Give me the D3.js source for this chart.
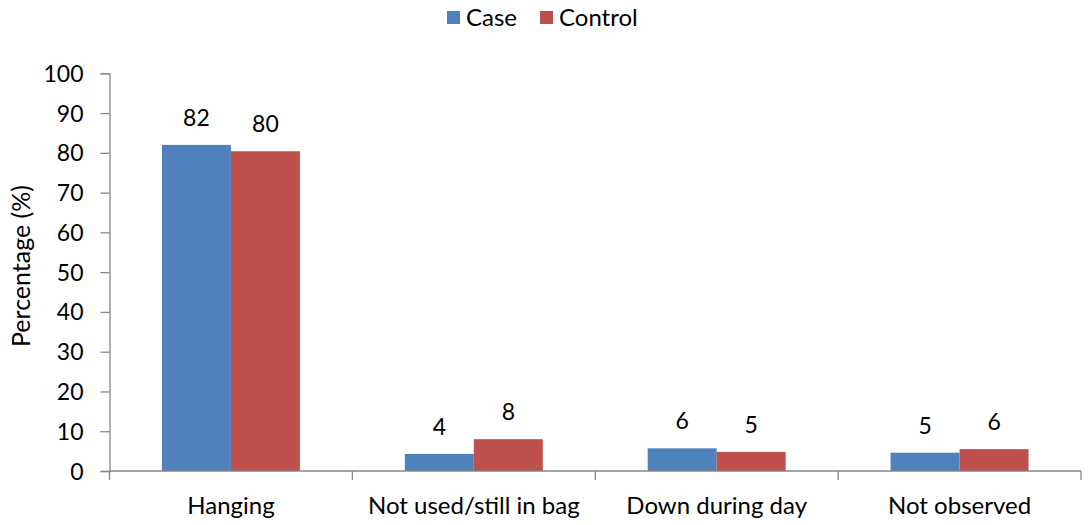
<!DOCTYPE html>
<html><head><meta charset="utf-8">
<script src="https://cdn.jsdelivr.net/npm/d3@7"></script>
<style>body{margin:0;background:#fff}svg{display:block}text{font-family:Lato,"Open Sans",sans-serif;fill:#000}</style>
</head><body><svg id="c" width="1088" height="525"></svg>
<script>
const categories = ["Hanging","Not used/still in bag","Down during day","Not observed"];
const seriesNames = ["Case","Control"];
const caseValues = [82, 4.3, 5.7, 4.6];
const controlValues = [80.4, 8.0, 4.8, 5.5];
const yTicks = [0,10,20,30,40,50,60,70,80,90,100];
const colors = ["#4F81BD","#C0504D"];

const svg = d3.select("#c");
const x0 = d3.scaleBand().domain(categories).range([109.5,1081]).padding(0);
const x1 = d3.scaleBand().domain(seriesNames).range([0,x0.bandwidth()]).paddingInner(0).paddingOuter(0.76);
const y = d3.scaleLinear().domain([0,100]).range([471,73.3]);
const series = [caseValues, controlValues];

// y axis
const ya = svg.append("g").attr("transform","translate(109.5,0)")
  .call(d3.axisLeft(y).tickValues(yTicks).tickSize(9).tickPadding(6));
ya.select(".domain").attr("stroke","#868686").attr("stroke-width",1.3);
ya.selectAll(".tick line").attr("stroke","#868686").attr("stroke-width",1.3);
ya.selectAll(".tick text").attr("font-size",23).attr("font-family","Lato").attr("fill","#000").attr("dy","0.35em").attr("x",-26);

// bars
categories.forEach((c,i)=>{
  seriesNames.forEach((s,j)=>{
    const v = series[j][i];
    svg.append("rect").attr("x",x0(c)+x1(s)).attr("y",y(v))
      .attr("width",x1.bandwidth()).attr("height",y(0)-y(v)).attr("fill",colors[j]);
    svg.append("text").attr("x",x0(c)+x1(s)+x1.bandwidth()/2).attr("y",y(v)-19)
      .attr("text-anchor","middle").attr("font-size",23).text(Math.round(v));
  });
});

// x axis
const xa = svg.append("g").attr("transform","translate(0,471)");
xa.append("line").attr("x1",109.5).attr("x2",1081).attr("stroke","#868686").attr("stroke-width",1.3);
const xt = [...categories.map(c=>x0(c)), 1081];
xt.forEach(t=>xa.append("line").attr("x1",t).attr("x2",t).attr("y1",0).attr("y2",9).attr("stroke","#868686").attr("stroke-width",1.3));
categories.forEach(c=>xa.append("text").attr("x",x0(c)+x0.bandwidth()/2).attr("y",43).attr("text-anchor","middle").attr("font-size",24).text(c));

// y title
svg.append("text").attr("transform","translate(30,266) rotate(-90)").attr("text-anchor","middle").attr("font-size",25).text("Percentage (%)");

// legend
const leg = svg.append("g");
const lx = [447, 540];
seriesNames.forEach((s,j)=>{
  leg.append("rect").attr("x",lx[j]).attr("y",11).attr("width",13).attr("height",13).attr("fill",colors[j]);
  leg.append("text").attr("x",lx[j]+19).attr("y",26).attr("font-size",24).text(s);
});
</script></body></html>
